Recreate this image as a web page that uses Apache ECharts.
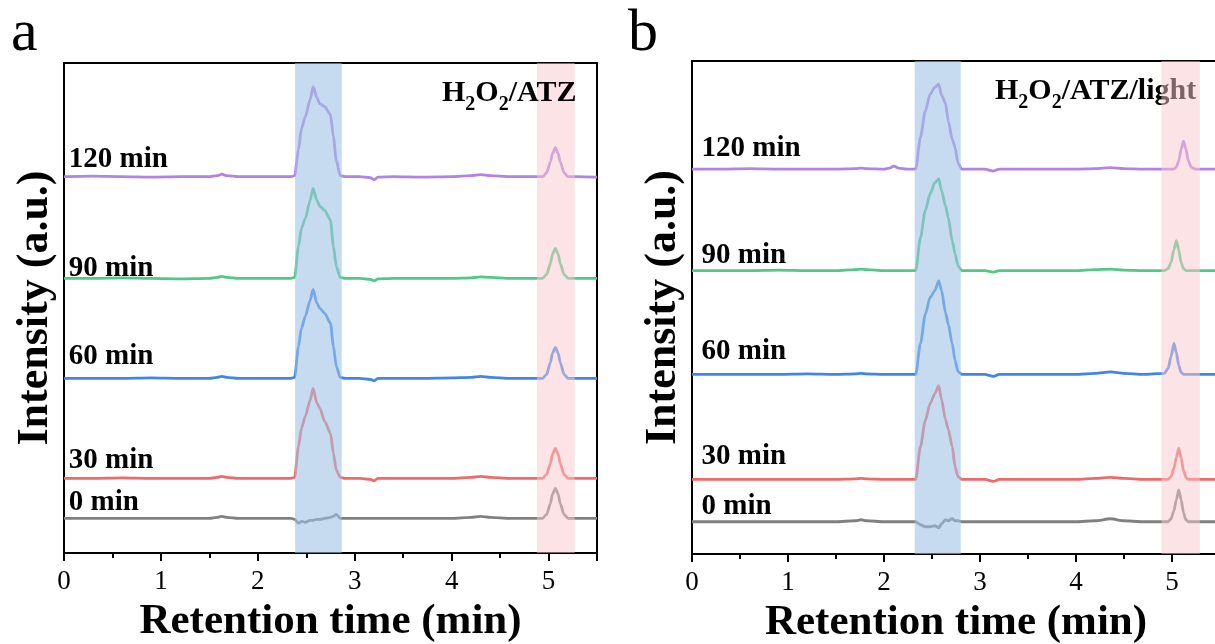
<!DOCTYPE html>
<html>
<head>
<meta charset="utf-8">
<script src="https://cdn.jsdelivr.net/npm/echarts@6/dist/echarts.min.js"></script>
<style>
  html, body { margin: 0; padding: 0; background: #ffffff; }
  #chart { width: 1215px; height: 644px; }
</style>
</head>
<body>
<div id="chart"></div>
<script>
// ---- data -------------------------------------------------------------
const traceNames = ['0 min', '30 min', '60 min', '90 min', '120 min'];
const xTickLabels = [0, 1, 2, 3, 4, 5];

// Panel a: H2O2/ATZ  (retention time, min)
const timeA = [0, 0.3, 0.6, 0.9, 1.2, 1.5, 1.58, 1.63, 1.68, 1.8,
               2.0, 2.2, 2.34, 2.38, 2.42, 2.45, 2.49, 2.54, 2.57, 2.61,
               2.64, 2.69, 2.75, 2.78, 2.81, 2.85, 2.9, 3.05, 3.16, 3.2,
               3.24, 3.4, 3.7, 4.0, 4.2, 4.3, 4.4, 4.6, 4.8, 4.94,
               4.98, 5.02, 5.04, 5.07, 5.10, 5.12, 5.16, 5.20, 5.3, 5.5];
const a0   = [0, 0, 0, 0, 0, 0, 1, 2, 1, 0,
              0, 0, 0, -1, -5, -3, -4, -2, -2, -1,
              -1, 0, 1, 2, 4, 0, 0, 0, 0, 0,
              0, 0, 0, 0, 1, 2, 1, 0, 0, 0,
              4, 15, 24, 30, 24, 15, 4, 0, 0, 0];
const a30  = [0, 0, 0.5, 0, 0, 0, 1, 2, 1, 0,
              0, 0, 0, 1, 32, 50, 62, 78, 90, 75,
              70, 57, 45, 25, 8, 1, 0, 0, -1, -2.5,
              0, 0, 0, 0, 1, 2, 1, 0, 0, 0,
              4, 15, 24, 30, 24, 15, 4, 0, 0, 0];
const a60  = [0, 0, 0, 0.5, 0, 0, 1, 2, 1, 0,
              0, 0, 0, 1, 32, 50, 62, 78, 89, 75,
              70, 65, 55, 32, 12, 1, 0, 0, -1, -2.5,
              0, 0, 0, 0.5, 1, 2, 1, 0, 0, 0,
              4, 16, 25, 31, 25, 16, 4, 0, 0, 0];
const a90  = [0, 0, 0.5, 0, -0.5, 0, 1, 2, 1, 0,
              0, 0, 0, 1, 32, 50, 60, 78, 90, 78,
              72, 68, 58, 32, 12, 1, 0, 0, -1, -2.5,
              -0.5, 0, 0, 0, 0.5, 1.5, 1, 0, 0, 0,
              4, 15, 24, 30, 24, 15, 4, 0, 0, 0];
const a120 = [0, 0.5, 0, -0.5, 0, 0, 1, 2.5, 1, 0,
              0, 0, 0, 1, 27, 48, 60, 77, 90, 79,
              73, 70, 62, 40, 16, 1, 0, 0, -1, -3,
              -0.5, 0, -0.5, 0, 1, 2, 1, 0, 0, 0,
              4, 15, 23, 29, 23, 15, 4, 0, 0, -0.5];
// vertical stacking offsets of the five chromatograms
const offsetA = [34.7, 74.7, 174.7, 274.7, 376.3];
const bandsA = [[2.384, 2.866], [4.88, 5.27]];

// Panel b: H2O2/ATZ/light
const timeB = [0, 0.3, 0.6, 0.9, 1.2, 1.5, 1.7, 1.76, 1.82, 2.0,
               2.06, 2.1, 2.15, 2.24, 2.33, 2.38, 2.43, 2.48, 2.53, 2.57,
               2.60, 2.64, 2.67, 2.71, 2.74, 2.77, 2.81, 2.9, 3.05, 3.14,
               3.2, 3.4, 3.7, 4.0, 4.2, 4.36, 4.5, 4.7, 4.92, 4.96,
               4.99, 5.02, 5.045, 5.07, 5.095, 5.12, 5.145, 5.17, 5.2, 5.24,
               5.28, 5.35, 5.5];
const b0   = [0, 0, 0, 0, 0, 0, 1, 2, 1, 0,
              0, 0, 0, 0, 0, -3, -5, -5, -4, -6,
              -2, 2, 1, 3, 1, 1, 0, 0, 0, 0,
              0, 0, 0, 0, 1, 3, 1, 0, 0, 0,
              3, 11, 22, 32, 22, 9, 2, 0, 0, 0,
              0, 0, 0];
const b30  = [0, 0, 0, 0, 0, 0, 0.5, 1, 0.5, 0,
              0, 0, 0, 0, 0, 33, 59, 76, 86, 94,
              80, 60, 50, 33, 13, 3, 0, 0, 0, -2,
              0, 0, 0, 0, 1, 2, 1, 0, 0, 0,
              3, 11, 22, 31, 22, 9, 2, 0, 0, 0,
              0, 0, 0];
const b60  = [0, 0, 0, 0, 0.5, 0, 0.5, 1, 0.5, 0,
              0, 0, 0, 0, 0, 31, 60, 77, 84, 94,
              84, 62, 50, 31, 14, 3, 0, 0, 0, -2,
              0, 0, 0, 0, 1, 2.5, 1, 0, 1, 6,
              18, 31, 22, 9, 2, 0, 0, 0, 0, 0,
              0, 0, 0];
const b90  = [0, 0, 0, 0.5, 0, 0, 1, 1.5, 1, 0,
              0, 0, 0, 0, 0, 33, 60, 77, 88, 92,
              80, 65, 53, 30, 17, 5, 0, 0, 0, -1.5,
              0, 0, 0, 0, 1, 1.5, 0.5, 0, 0, 2,
              8, 21, 30, 21, 8, 2, 0, 0, 0, 0,
              0, 0, 0];
const b120 = [0, 0, 0.5, 0, 0, 0, 0.5, 1, 0.5, 0,
              1, 3, 1, 0, 0, 32, 58, 75, 82, 85,
              74, 66, 48, 30, 22, 6, 0, 0, 0, -2,
              0, 0, 0, 0, 0.5, 1.5, 0.5, 0, 0, 0,
              0, 0, 2, 8, 20, 28, 20, 8, 2, 0,
              0, 0, 0];
const offsetB = [32.3, 74.7, 180, 284, 385.7];
const bandsB = [[2.32, 2.80], [4.89, 5.29]];

// ---- styling ----------------------------------------------------------
const serif = 'Liberation Serif';
const lineColors = ['#808080', '#f06868', '#3f86e8', '#52c887', '#b283e4'];
const bandColors = ['rgba(158,193,230,0.58)', 'rgba(249,200,203,0.5)'];
// how far each "xx min" tag sits above its trace (a.u.)
const tagLiftA = [1, 3, 7, -5, 3];
const tagLiftB = [1, 8, 8, 1, 6];

const panels = [
  { time: timeA, traces: [a0, a30, a60, a90, a120], offsets: offsetA, bands: bandsA,
    yMax: 490, tagX: 0.05, tagLift: tagLiftA,
    grid: { left: 64, width: 533, top: 63, height: 490 } },
  { time: timeB, traces: [b0, b30, b60, b90, b120], offsets: offsetB, bands: bandsB,
    yMax: 494, tagX: 0.1, tagLift: tagLiftB,
    grid: { left: 692, width: 528, top: 61, height: 493 } }
];

const grids = [], xAxes = [], yAxes = [], series = [];
panels.forEach((p, gi) => {
  grids.push(Object.assign({ show: true, borderColor: '#000', borderWidth: 2,
                             backgroundColor: 'transparent',
                             containLabel: false, outerBoundsMode: 'none' }, p.grid));
  xAxes.push({
    gridIndex: gi, type: 'value', min: 0, max: 5.5, interval: 1,
    axisLine: { show: true, onZero: false, lineStyle: { color: '#000', width: 2 } },
    axisTick: { show: true, inside: false, length: 8, lineStyle: { color: '#000', width: 2 } },
    minorTick: { show: true, splitNumber: 2, length: 5, lineStyle: { color: '#000', width: 2 } },
    splitLine: { show: false },
    axisLabel: {
      color: '#000', fontFamily: serif, fontSize: 27, margin: 15,
      formatter: v => (xTickLabels.indexOf(v) >= 0 ? String(v) : '')
    },
    name: 'Retention time (min)', nameLocation: 'middle', nameGap: 44,
    nameTextStyle: { color: '#000', fontFamily: serif, fontWeight: 'bold', fontSize: 43 }
  });
  yAxes.push({
    gridIndex: gi, type: 'value', min: 0, max: p.yMax,
    axisLine: { show: true, lineStyle: { color: '#000', width: 2 } },
    axisTick: { show: false }, axisLabel: { show: false }, splitLine: { show: false },
    name: 'Intensity (a.u.)', nameLocation: 'middle', nameGap: 6,
    nameTextStyle: { color: '#000', fontFamily: serif, fontWeight: 'bold', fontSize: 44 }
  });
  p.traces.forEach((sig, ti) => {
    series.push({
      type: 'line', xAxisIndex: gi, yAxisIndex: gi, z: 2,
      name: traceNames[ti], showSymbol: false, symbol: 'none',
      smooth: 0.25, smoothMonotone: 'x',
      lineStyle: { color: lineColors[ti], width: 2.8 },
      data: p.time.map((t, k) => [t, p.offsets[ti] + sig[k]])
    });
  });
  // highlighted retention windows, drawn over the traces
  series.push({
    type: 'line', xAxisIndex: gi, yAxisIndex: gi, z: 10, data: [],
    markArea: {
      silent: true, z: 10,
      data: p.bands.map((b, bi) => [
        { xAxis: b[0], yAxis: 0, itemStyle: { color: bandColors[bi] } },
        { xAxis: b[1], yAxis: p.yMax }
      ])
    }
  });
});

const titleRich = {
  m: { fontFamily: serif, fontWeight: 'bold', fontSize: 30, lineHeight: 30, verticalAlign: 'top', fill: '#000' },
  s: { fontFamily: serif, fontWeight: 'bold', fontSize: 20, lineHeight: 20, verticalAlign: 'top',
       padding: [17, 0, 0, 0], fill: '#000' }
};

const chart = echarts.init(document.getElementById('chart'), null, { renderer: 'canvas' });
chart.setOption({
  backgroundColor: '#ffffff',
  animation: false,
  grid: grids, xAxis: xAxes, yAxis: yAxes, series: series
});

// panel letters, conditions and per-trace time tags
const graphics = [
  { type: 'text', left: 11, top: 4, z: 1,
    style: { text: 'a', font: '60px "Liberation Serif"', fill: '#000' } },
  { type: 'text', left: 628, top: 4, z: 1,
    style: { text: 'b', font: '60px "Liberation Serif"', fill: '#000' } },
  { type: 'text', left: 442, top: 78, z: 20,
    style: { text: '{m|H}{s|2}{m|O}{s|2}{m|/ATZ}', rich: titleRich } },
  { type: 'text', left: 995, top: 76, z: 1,
    style: { text: '{m|H}{s|2}{m|O}{s|2}{m|/ATZ/light}', rich: titleRich } }
];
panels.forEach((p, gi) => {
  traceNames.forEach((n, ti) => {
    const pt = chart.convertToPixel({ gridIndex: gi }, [p.tagX, p.offsets[ti] + p.tagLift[ti]]);
    graphics.push({
      type: 'text', x: pt[0], y: pt[1], z: 3,
      style: { text: n, fill: '#000', font: 'bold 29px "Liberation Serif"',
               align: 'left', verticalAlign: 'bottom', lineHeight: 29 }
    });
  });
});
chart.setOption({ graphic: graphics });
</script>
</body>
</html>
